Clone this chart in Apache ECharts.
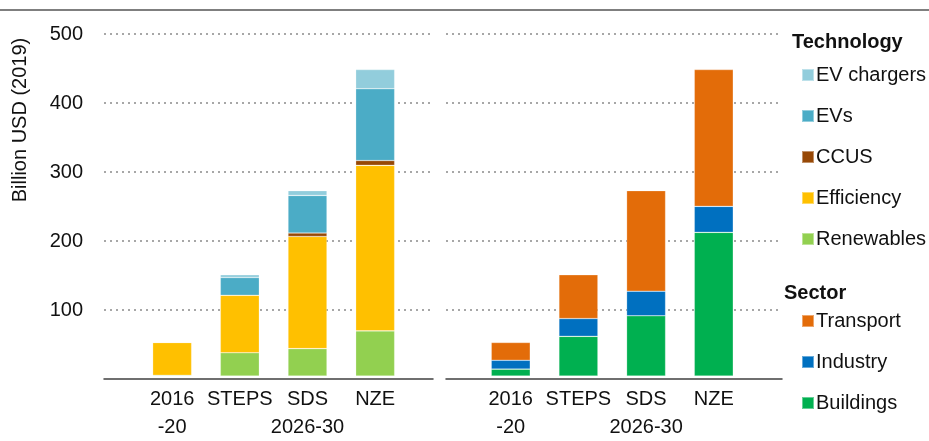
<!DOCTYPE html>
<html>
<head>
<meta charset="utf-8">
<script src="https://cdn.jsdelivr.net/npm/echarts@6/dist/echarts.min.js"></script>
<style>html,body{margin:0;padding:0;background:#fff;}#c{width:929px;height:441px;}</style>
</head>
<body>
<div id="c"></div>
<script>
// ---- data ----
const tickLabels = ['2016\n-20', 'STEPS', 'SDS\n2026-30', 'NZE'];
const yTicks = [0, 100, 200, 300, 400, 500];

const techNames = ['EV chargers', 'EVs', 'CCUS', 'Efficiency', 'Renewables'];
const renewables = [1, 34, 40, 66];
const efficiency = [48, 84, 164, 242];
const ccus = [0, 0, 5, 7];
const evs = [0, 26, 55, 105];
const evChargers = [0, 4, 7, 28];

const sectorNames = ['Transport', 'Industry', 'Buildings'];
const buildings = [10, 58, 88, 210];
const industry = [13, 26, 36, 38];
const transport = [26, 64, 147, 200];

const colors = {
  'EV chargers': '#92CDDC', 'EVs': '#4BACC6', 'CCUS': '#974806',
  'Efficiency': '#FFC000', 'Renewables': '#92D050',
  'Transport': '#E36C09', 'Industry': '#0070C0', 'Buildings': '#00B050'
};

const FONT = '"Liberation Sans", Arial, sans-serif';
const TOP = 34, H = 345;
const yMin = yTicks[0], yMax = yTicks[yTicks.length - 1], yStep = yTicks[1] - yTicks[0];

function barSeries(name, data, xi, stack) {
  return {
    name: name, type: 'bar', stack: stack, data: data,
    xAxisIndex: xi, yAxisIndex: xi, barWidth: 39,
    itemStyle: { color: colors[name], borderColor: 'rgba(255,255,255,0.4)', borderWidth: 0.6 },
    emphasis: { disabled: true }, animation: false
  };
}

const option = {
  animation: false,
  textStyle: { fontFamily: FONT },
  grid: [
    { left: 104, width: 329, top: TOP, height: H },
    { left: 138.3, width: 270.7, top: TOP, height: H },
    { left: 446, width: 336, top: TOP, height: H },
    { left: 476.9, width: 270.7, top: TOP, height: H }
  ],
  xAxis: [
    { gridIndex: 0, type: 'category', data: [''], axisLine: { lineStyle: { color: '#404040', width: 1.5 } }, axisTick: { show: false }, axisLabel: { show: false } },
    { gridIndex: 1, type: 'category', data: tickLabels, axisLine: { show: false }, axisTick: { show: false },
      axisLabel: { interval: 0, fontSize: 20, color: '#111', fontFamily: FONT, lineHeight: 28, margin: 9 } },
    { gridIndex: 2, type: 'category', data: [''], axisLine: { lineStyle: { color: '#404040', width: 1.5 } }, axisTick: { show: false }, axisLabel: { show: false } },
    { gridIndex: 3, type: 'category', data: tickLabels, axisLine: { show: false }, axisTick: { show: false },
      axisLabel: { interval: 0, fontSize: 20, color: '#111', fontFamily: FONT, lineHeight: 28, margin: 9 } }
  ],
  yAxis: [
    { gridIndex: 0, type: 'value', min: yMin, max: yMax, interval: yStep,
      axisLine: { show: false }, axisTick: { show: false },
      axisLabel: { fontSize: 20, color: '#111', fontFamily: FONT, margin: 21, showMinLabel: false },
      splitLine: { lineStyle: { type: [2, 4], color: '#8a8a8a', width: 1.5 }, showMinLine: false } },
    { gridIndex: 1, type: 'value', min: yMin, max: yMax, interval: yStep, show: false, splitLine: { show: false } },
    { gridIndex: 2, type: 'value', min: yMin, max: yMax, interval: yStep,
      axisLine: { show: false }, axisTick: { show: false }, axisLabel: { show: false },
      splitLine: { lineStyle: { type: [2, 4], color: '#8a8a8a', width: 1.5 }, showMinLine: false } },
    { gridIndex: 3, type: 'value', min: yMin, max: yMax, interval: yStep, show: false, splitLine: { show: false } }
  ],
  legend: [
    { data: techNames, orient: 'vertical', left: 796, top: 59, itemWidth: 12, itemHeight: 12, itemGap: 19,
      icon: 'rect', selectedMode: false,
      textStyle: { fontSize: 20, color: '#111', fontFamily: FONT, lineHeight: 22, padding: [0, 0, 0, -3] } },
    { data: sectorNames, orient: 'vertical', left: 796, top: 305, itemWidth: 12, itemHeight: 12, itemGap: 19,
      icon: 'rect', selectedMode: false,
      textStyle: { fontSize: 20, color: '#111', fontFamily: FONT, lineHeight: 22, padding: [0, 0, 0, -3] } }
  ],
  graphic: [
    { type: 'line', shape: { x1: 0, y1: 10, x2: 929, y2: 10 }, style: { stroke: '#7f7f7f', lineWidth: 2 } },
    { type: 'text', x: 20, y: 120, rotation: Math.PI / 2,
      style: { text: 'Billion USD (2019)', fontSize: 20, fontFamily: FONT, fill: '#111', align: 'center', verticalAlign: 'middle' } },
    { type: 'text', x: 792, y: 42,
      style: { text: 'Technology', fontSize: 20, fontWeight: 'bold', fontFamily: FONT, fill: '#111', align: 'left', verticalAlign: 'middle' } },
    { type: 'text', x: 784, y: 293,
      style: { text: 'Sector', fontSize: 20, fontWeight: 'bold', fontFamily: FONT, fill: '#111', align: 'left', verticalAlign: 'middle' } }
  ],
  series: [
    barSeries('Renewables', renewables, 1, 'tech'),
    barSeries('Efficiency', efficiency, 1, 'tech'),
    barSeries('CCUS', ccus, 1, 'tech'),
    barSeries('EVs', evs, 1, 'tech'),
    barSeries('EV chargers', evChargers, 1, 'tech'),
    barSeries('Buildings', buildings, 3, 'sector'),
    barSeries('Industry', industry, 3, 'sector'),
    barSeries('Transport', transport, 3, 'sector')
  ]
};

const chart = echarts.init(document.getElementById('c'), null, { renderer: 'canvas' });
chart.setOption(option);
</script>
</body>
</html>
